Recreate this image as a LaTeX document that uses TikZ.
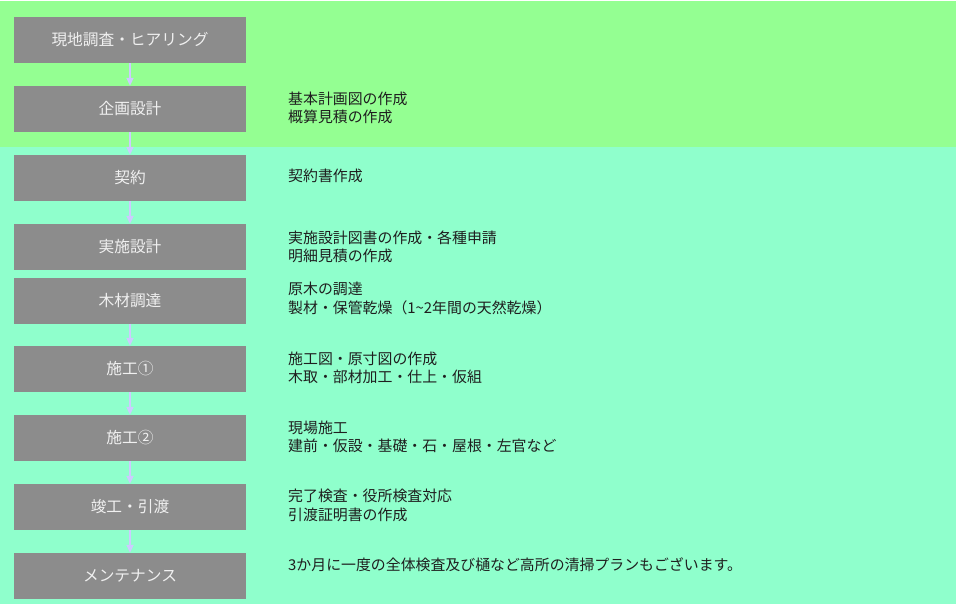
\documentclass[tikz,border=0pt]{standalone}
\usepackage{fontspec}
\setmainfont{Noto Sans CJK JP}
\usetikzlibrary{arrows.meta}

\definecolor{bandgreen}{RGB}{148,255,146}
\definecolor{bandaqua}{RGB}{143,255,204}
\definecolor{boxgray}{RGB}{140,140,140}
\definecolor{flowlav}{RGB}{204,204,255}

\begin{document}
\begin{tikzpicture}[x=1pt, y=-1pt,
    stepbox/.style={fill=boxgray, text=white!94!black, minimum width=232pt, minimum height=46pt,
      inner sep=0pt, font=\fontsize{15.7}{18}\selectfont},
    note/.style={anchor=west, align=left, inner sep=0pt, text=black!88, font=\fontsize{14.9}{18.5}\selectfont},
    flow/.style={draw=flowlav, line width=2pt, -{Triangle[width=7pt,length=8pt]}},
]

\def\bx{130}
\def\nx{288}

% background bands
\useasboundingbox (0,0) rectangle (956,604);
\fill[white] (0,0) rectangle (956,604);
\fill[bandgreen] (0,1) rectangle (956,147);
\fill[bandaqua] (0,147) rectangle (956,604);

% steps
\foreach \i/\y/\t in {1/40/現地調査・ヒアリング, 2/109/企画設計, 3/178/契約, 4/247/実施設計,
    5/300.5/木材調達, 6/369/施工①, 7/438/施工②, 8/507/竣工・引渡, 9/576/メンテナンス}{
  \node[stepbox] (step\i) at (\bx,\y) {\t};
}

% notes
\node[note] (note2) at (\nx,108) {基本計画図の作成\\概算見積の作成};
\node[note] (note3) at (\nx,175.5) {契約書作成};
\node[note] (note4) at (\nx,247) {実施設計図書の作成・各種申請\\明細見積の作成};
\node[note] (note5) at (\nx,298.5) {原木の調達\\製材・保管乾燥（1\textasciitilde2年間の天然乾燥）};
\node[note] (note6) at (\nx,368) {施工図・原寸図の作成\\木取・部材加工・仕上・仮組};
\node[note] (note7) at (\nx,437) {現場施工\\建前・仮設・基礎・石・屋根・左官など};
\node[note] (note8) at (\nx,505.5) {完了検査・役所検査対応\\引渡証明書の作成};
\node[note] (note9) at (\nx,565) {3か月に一度の全体検査及び樋など高所の清掃プランもございます。};

% arrows
\foreach \a/\b in {1/2, 2/3, 3/4, 5/6, 6/7, 7/8, 8/9}{
  \draw[flow] (step\a) -- (step\b);
}
\end{tikzpicture}
\end{document}
